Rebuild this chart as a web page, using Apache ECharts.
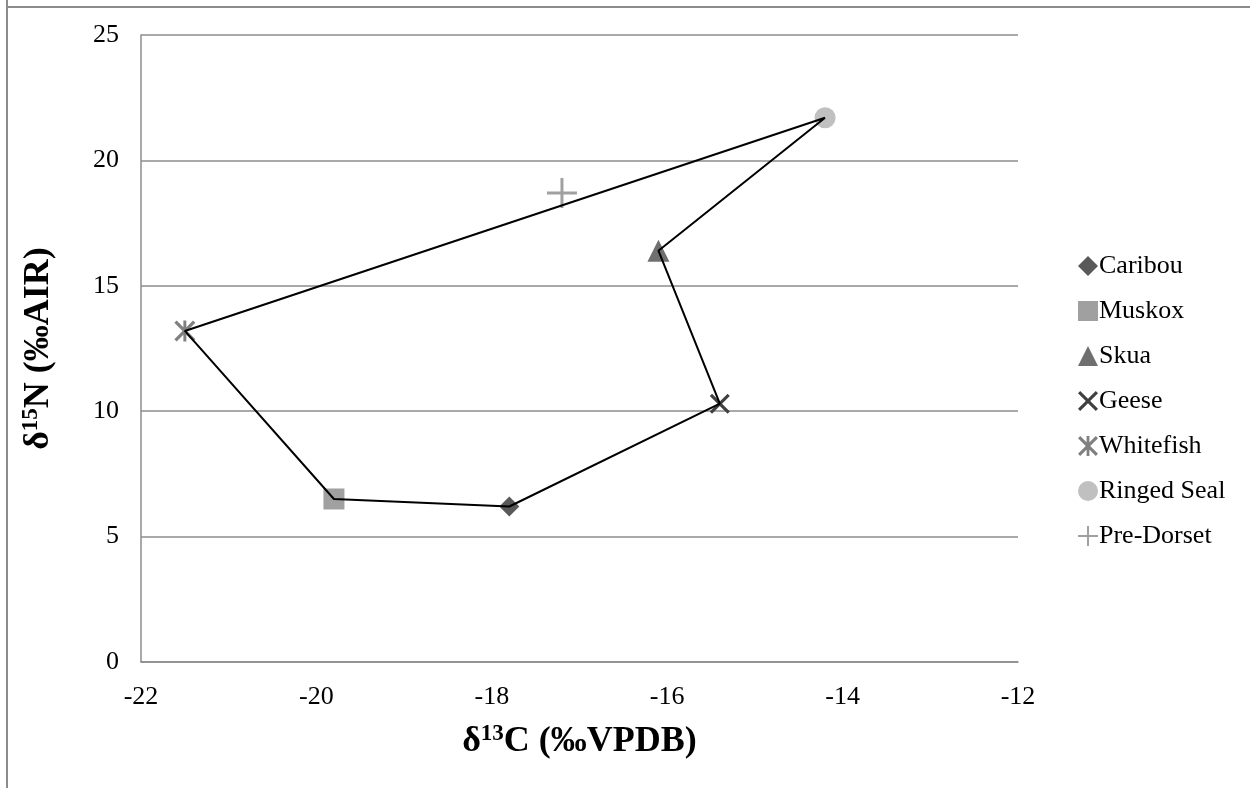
<!DOCTYPE html>
<html>
<head>
<meta charset="utf-8">
<script src="https://cdn.jsdelivr.net/npm/echarts@6/dist/echarts.min.js"></script>
<style>
html,body{margin:0;padding:0;background:#fff;}
#chart{width:1250px;height:788px;}
</style>
</head>
<body>
<div id="chart"></div>
<script>
// Data (δ13C, δ15N)
const species = ['Caribou','Muskox','Skua','Geese','Whitefish','Ringed Seal','Pre-Dorset'];
const d13C = [-17.8, -19.8, -16.1, -15.4, -21.5, -14.2, -17.2];
const d15N = [6.2, 6.5, 16.4, 10.3, 13.2, 21.7, 18.7];
// polygon (outline) order by species index
const outlineOrder = [5, 4, 1, 0, 3, 2, 5];
const xTicks = [-22, -20, -18, -16, -14, -12];
const yTicks = [0, 5, 10, 15, 20, 25];

const colors = ['#595959', '#a0a0a0', '#6f6f6f', '#404040', '#808080', '#c0c0c0', '#a0a0a0'];
const dX = 1.1;
const xPath = 'path://M0,' + dX + 'L' + dX + ',0L5,' + (5 - dX) + 'L' + (10 - dX) + ',0L10,' + dX + 'L' + (5 + dX) + ',5L10,' + (10 - dX) + 'L' + (10 - dX) + ',10L5,' + (5 + dX) + 'L' + dX + ',10L0,' + (10 - dX) + 'L' + (5 - dX) + ',5Z';
const astPath = xPath + 'M4.3,0H5.7V10H4.3Z';
const plusPath = 'path://M4.5,0H5.5V4.5H10V5.5H5.5V10H4.5V5.5H0V4.5H4.5Z';
const symbols = ['diamond', 'rect', 'triangle', xPath, astPath, 'circle', plusPath];
const sizes = [20, 21, 22, 20, 21, 21, 30];

const serif = '"Liberation Serif", "Times New Roman", serif';

const series = species.map((name, i) => ({
  name: name,
  type: 'scatter',
  data: [[d13C[i], d15N[i]]],
  symbol: symbols[i],
  symbolSize: sizes[i],
  itemStyle: { color: colors[i], opacity: 1 },
  z: 2
}));
series.push({
  name: 'outline',
  type: 'line',
  data: outlineOrder.map(i => [d13C[i], d15N[i]]),
  showSymbol: false,
  symbol: 'none',
  lineStyle: { color: '#000', width: 2 },
  z: 5,
  silent: true
});

const chart = echarts.init(document.getElementById('chart'), null, { renderer: 'canvas' });
chart.setOption({
  animation: false,
  backgroundColor: '#fff',
  textStyle: { fontFamily: serif },
  grid: { left: 141, right: 232, top: 35, bottom: 126, containLabel: false },
  xAxis: {
    type: 'value',
    min: xTicks[0], max: xTicks[xTicks.length - 1], interval: 2,
    axisLine: { show: true, lineStyle: { color: '#8c8c8c', width: 1.5 } },
    axisTick: { show: false },
    splitLine: { show: false },
    axisLabel: { color: '#000', fontSize: 26, fontFamily: serif, margin: 22 },
    name: '{b|δ}{s|13}{b|C (‰VPDB)}',
    nameLocation: 'middle',
    nameGap: 61,
    nameTextStyle: {
      rich: {
        b: { fontSize: 36, fontWeight: 'bold', fontFamily: serif, color: '#000' },
        s: { fontSize: 23, fontWeight: 'bold', fontFamily: serif, color: '#000', verticalAlign: 'top', padding: [0, 0, 14, 0] }
      }
    }
  },
  yAxis: {
    type: 'value',
    min: yTicks[0], max: yTicks[yTicks.length - 1], interval: 5,
    axisLine: { show: true, lineStyle: { color: '#8c8c8c', width: 1.5 } },
    axisTick: { show: false },
    splitLine: { show: true, lineStyle: { color: '#8c8c8c', width: 1.5 } },
    axisLabel: { color: '#000', fontSize: 26, fontFamily: serif, margin: 22 },
    name: '{b|δ}{s|15}{b|N (‰AIR)}',
    nameLocation: 'middle',
    nameRotate: 90,
    nameGap: 84,
    nameTextStyle: {
      rich: {
        b: { fontSize: 36, fontWeight: 'bold', fontFamily: serif, color: '#000' },
        s: { fontSize: 23, fontWeight: 'bold', fontFamily: serif, color: '#000', verticalAlign: 'top', padding: [0, 0, 14, 0] }
      }
    }
  },
  legend: {
    data: species,
    orient: 'vertical',
    left: 1073,
    top: 248,
    itemWidth: 20,
    itemHeight: 20,
    itemGap: 19,
    textStyle: { color: '#000', fontSize: 26, fontFamily: serif, padding: [0, 0, 0, -4] }
  },
  graphic: [
    { type: 'line', shape: { x1: 7, y1: 0, x2: 7, y2: 788 }, style: { stroke: '#8c8c8c', lineWidth: 2 }, z: 0 },
    { type: 'line', shape: { x1: 6, y1: 7, x2: 1250, y2: 7 }, style: { stroke: '#8c8c8c', lineWidth: 2 }, z: 0 }
  ],
  series: series
});
</script>
</body>
</html>
